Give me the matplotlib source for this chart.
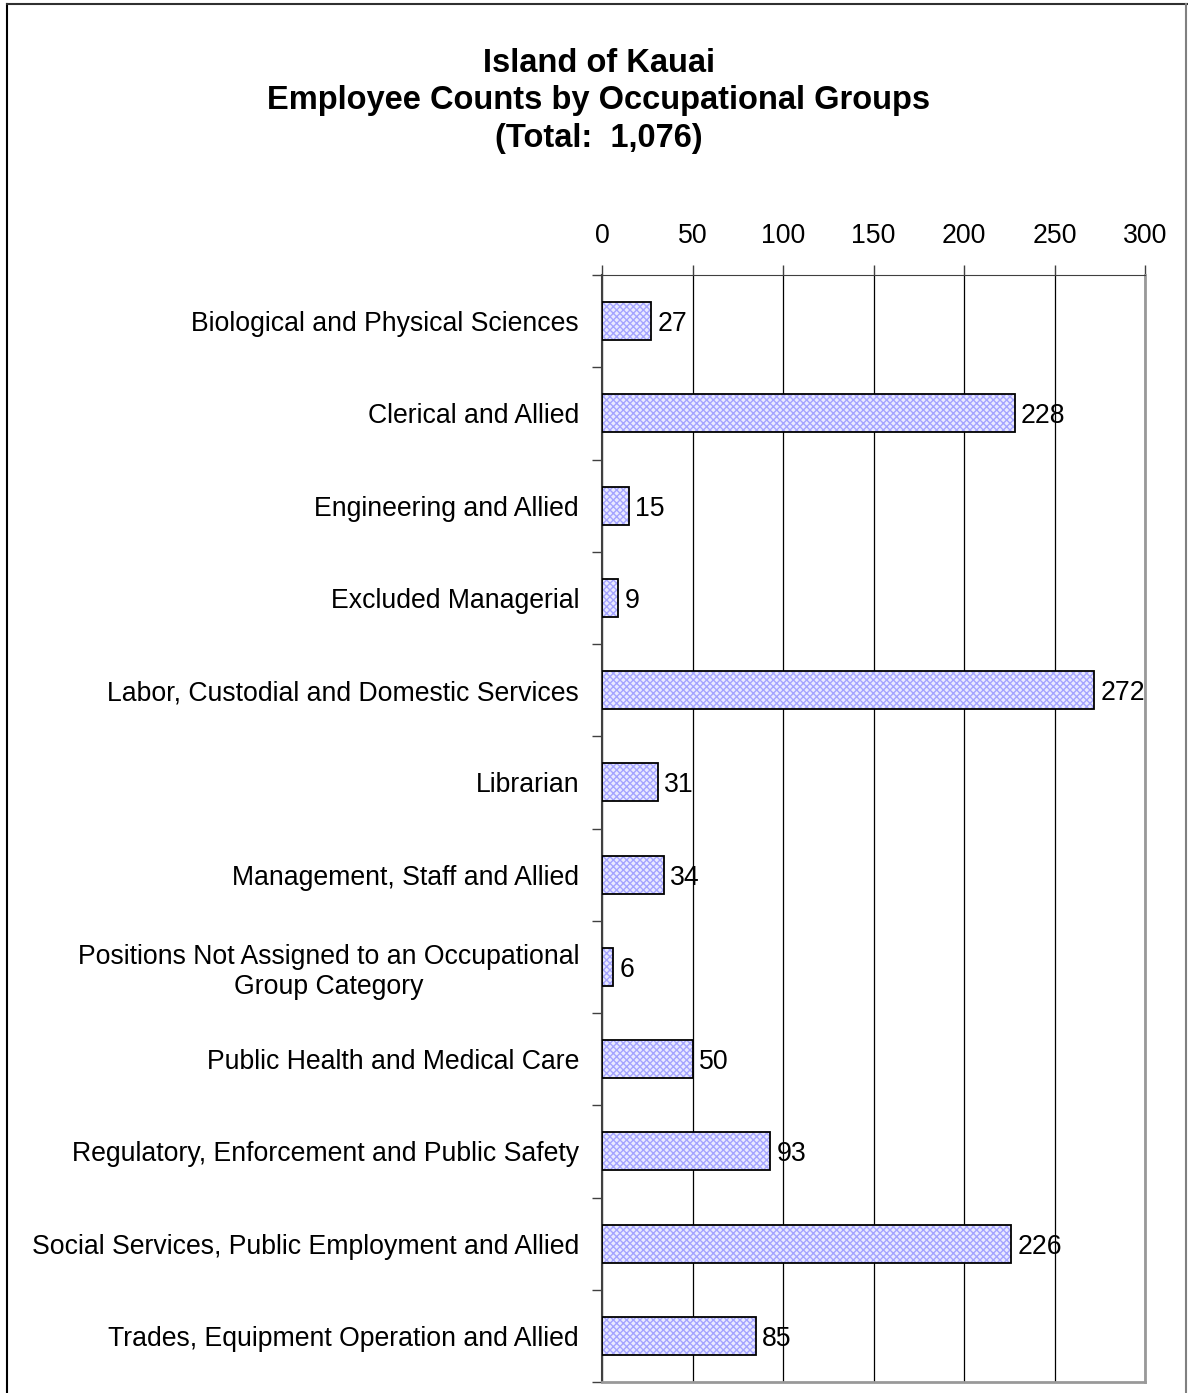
import matplotlib.pyplot as plt
from matplotlib.lines import Line2D

plt.rcParams['font.family'] = ['Liberation Sans', 'DejaVu Sans']

categories = [
    "Biological and Physical Sciences",
    "Clerical and Allied",
    "Engineering and Allied",
    "Excluded Managerial",
    "Labor, Custodial and Domestic Services",
    "Librarian",
    "Management, Staff and Allied",
    "Positions Not Assigned to an Occupational\nGroup Category",
    "Public Health and Medical Care",
    "Regulatory, Enforcement and Public Safety",
    "Social Services, Public Employment and Allied",
    "Trades, Equipment Operation and Allied",
]
counts = [27, 228, 15, 9, 272, 31, 34, 6, 50, 93, 226, 85]
xticks = [0, 50, 100, 150, 200, 250, 300]

fig = plt.figure(figsize=(11.88, 13.93), dpi=100)
ax = fig.add_axes([602 / 1188, 1 - 1382 / 1393, (1145 - 602) / 1188, (1382 - 275) / 1393])

pos = list(range(len(categories)))
h = 0.41
# hatched fill, then black outline on top
ax.barh(pos, counts, height=h, color='#eaeaff', edgecolor='#a4a4ff',
        hatch='xxxxx', linewidth=0, zorder=2)
ax.barh(pos, counts, height=h, fill=False, edgecolor='black', linewidth=1.3, zorder=3)

for y, v in zip(pos, counts):
    ax.text(v + 3.5, y, str(v), va='center_baseline', ha='left', fontsize=19.2, zorder=4)

ax.set_xlim(0, 300)
ax.set_ylim(len(categories) - 0.5, -0.5)
ax.set_xticks(xticks)
ax.xaxis.tick_top()
ax.tick_params(axis='x', labelsize=19.2, length=7, width=1, pad=12, color='#404040')
ax.set_yticks(pos)
ax.set_yticklabels(categories, fontsize=19.2, multialignment='center')
ax.tick_params(axis='y', which='major', length=0, pad=16.5)
ax.set_yticks([p + 0.5 for p in range(-1, len(categories))], minor=True)
ax.tick_params(axis='y', which='minor', length=7, width=1, color='#404040')

ax.grid(axis='x', color='black', linewidth=0.9, zorder=0)
ax.set_axisbelow(True)

ax.spines['left'].set_color('#404040')
ax.spines['left'].set_linewidth(1.5)
ax.spines['top'].set_color('#404040')
ax.spines['right'].set_color('#999999')
ax.spines['right'].set_linewidth(2)
ax.spines['bottom'].set_color('#999999')
ax.spines['bottom'].set_linewidth(2)

fig.text(599 / 1188, 1 - 101 / 1393,
         "Island of Kauai\nEmployee Counts by Occupational Groups\n(Total:  1,076)",
         ha='center', va='center', fontsize=23.5, fontweight='bold', linespacing=1.28)

# outer chart border
fig.add_artist(Line2D([7 / 1188, 7 / 1188], [0, 1 - 4 / 1393], color='black', lw=1.5))
fig.add_artist(Line2D([7 / 1188, 1187 / 1188], [1 - 4 / 1393, 1 - 4 / 1393], color='#303030', lw=1.5))
fig.add_artist(Line2D([1186 / 1188, 1186 / 1188], [0, 1 - 4 / 1393], color='#808080', lw=1.5))

fig.savefig('out.png', dpi=100, facecolor='white')
